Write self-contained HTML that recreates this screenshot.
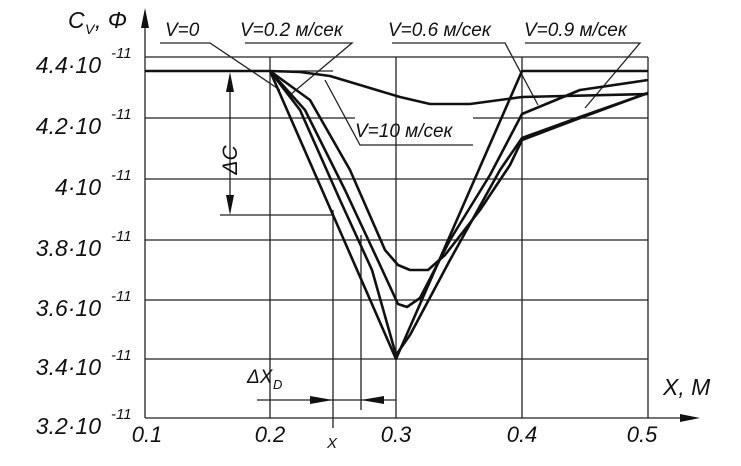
<!DOCTYPE html>
<html><head><meta charset="utf-8"><style>
body{margin:0;background:#fff}
svg text{font-family:"Liberation Sans",sans-serif;font-style:italic;fill:#111}
</style></head><body>
<svg width="741" height="461" viewBox="0 0 741 461" xmlns="http://www.w3.org/2000/svg">
<g stroke="#222" stroke-width="1.3" fill="none">
<line x1="145" y1="57" x2="648" y2="57"/>
<line x1="145" y1="118" x2="355" y2="118"/>
<line x1="473" y1="118" x2="648" y2="118"/>
<line x1="145" y1="179" x2="648" y2="179"/>
<line x1="145" y1="240" x2="648" y2="240"/>
<line x1="145" y1="300" x2="648" y2="300"/>
<line x1="145" y1="359" x2="648" y2="359"/>
<line x1="270" y1="57" x2="270" y2="418"/>
<line x1="396" y1="57" x2="396" y2="418"/>
<line x1="522" y1="57" x2="522" y2="418"/>
<line x1="648" y1="57" x2="648" y2="418"/>
<line x1="333" y1="210" x2="333" y2="428"/>
<line x1="361" y1="235" x2="361" y2="410"/>
<line x1="145" y1="18" x2="145" y2="418"/>
<line x1="145" y1="418" x2="690" y2="418"/>
<line x1="257" y1="400" x2="396" y2="400"/>
<line x1="230" y1="80" x2="230" y2="205"/>
<line x1="220" y1="215" x2="333" y2="215"/>
<line x1="270" y1="71" x2="333" y2="71"/>
<polyline points="160,43 210,43 280,90"/>
<polyline points="245,43 352,43 290,95"/>
<polyline points="392,43 505,43 538,105"/>
<polyline points="525,43 640,43 585,108"/>
<polyline points="325,80 360,145 473,145"/>
</g>
<g fill="#111">
<polygon points="145,8 141,28 149,28"/>
<polygon points="700,418 680,414 680,422"/>
<polygon points="333,400 310,396 310,404"/>
<polygon points="361,400 384,396 384,404"/>
<polygon points="230,72 226,92 234,92"/>
<polygon points="230,215 226,195 234,195"/>
</g>
<g stroke="#111" stroke-width="2.6" fill="none" stroke-linejoin="round">
<polyline points="145,71 270,71 396,359 522,71 648,71"/>
<polyline points="270,71 300,110 340,200 372,270 396,355 410,335 450,260 500,170 522,138 580,117 648,93"/>
<polyline points="270,71 305,110 345,190 380,265 398,304 407,307 420,298 450,240 490,175 522,114 580,90 648,80"/>
<polyline points="270,71 310,100 350,170 385,250 398,265 410,270 428,270 445,255 480,210 510,165 522,140 580,118 648,93"/>
<polyline points="270,71 300,72 330,76 370,88 400,97 430,104 470,104 522,97 648,94"/>
</g>
<g font-size="23" text-anchor="end">
<text x="101" y="73">4.4·10</text>
<text x="101" y="134">4.2·10</text>
<text x="101" y="195">4·10</text>
<text x="101" y="256">3.8·10</text>
<text x="101" y="316">3.6·10</text>
<text x="101" y="375">3.4·10</text>
<text x="101" y="434">3.2·10</text>
</g>
<g font-size="15">
<text x="111" y="58">-11</text><text x="111" y="119">-11</text><text x="111" y="180">-11</text>
<text x="111" y="241">-11</text><text x="111" y="301">-11</text><text x="111" y="360">-11</text><text x="111" y="419">-11</text>
</g>
<g font-size="22" text-anchor="middle">
<text x="147" y="442">0.1</text><text x="270" y="442">0.2</text><text x="396" y="442">0.3</text>
<text x="522" y="442">0.4</text><text x="642" y="442">0.5</text>
</g>
<text x="327" y="448" font-size="15">X</text>
<text x="68" y="28" font-size="23">C</text><text x="85" y="34" font-size="14">V</text><text x="95" y="28" font-size="23">, Φ</text>
<text x="663" y="395" font-size="23">X, M</text>
<text x="247" y="383" font-size="19">ΔX</text><text x="273" y="389" font-size="13">D</text>
<text x="237" y="160" font-size="21" transform="rotate(-90 237 160)" text-anchor="middle">ΔC</text>
<g font-size="19">
<text x="165" y="36">V=0</text>
<text x="240" y="36">V=0.2 м/сек</text>
<text x="388" y="36">V=0.6 м/сек</text>
<text x="524" y="36">V=0.9 м/сек</text>
<text x="355" y="137">V=10 м/сек</text>
</g>
</svg>
</body></html>
